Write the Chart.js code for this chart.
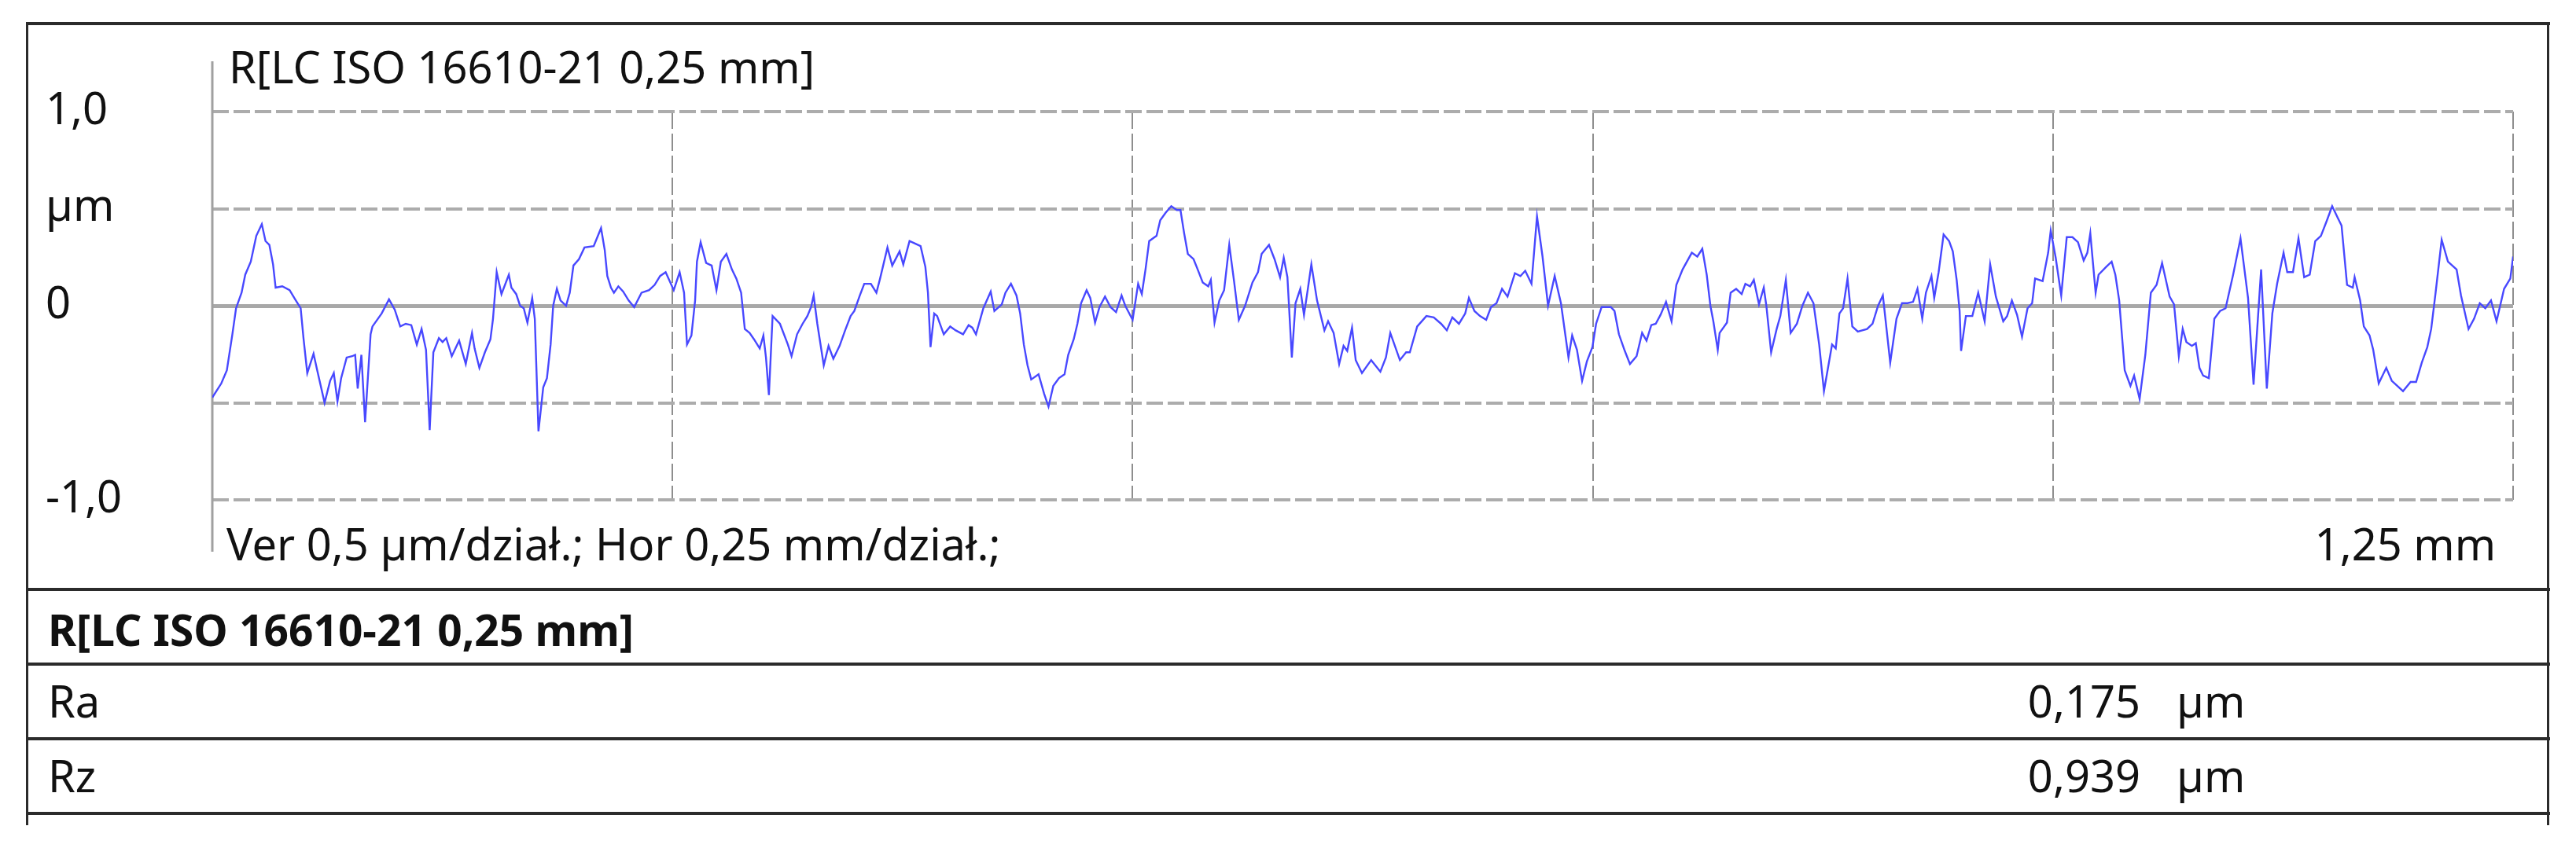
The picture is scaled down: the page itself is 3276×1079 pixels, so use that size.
<!DOCTYPE html>
<html>
<head>
<meta charset="utf-8">
<script src="https://cdn.jsdelivr.net/npm/chart.js@4.4.1/dist/chart.umd.min.js"></script>
<style>
  html, body { margin: 0; padding: 0; background: #fff; }
  body { width: 3276px; height: 1079px; position: relative; overflow: hidden; font-family: "Noto Sans", sans-serif; color: #111; }
  #profile { position: absolute; left: 0; top: 0; }
  .hl { position: absolute; left: 33px; width: 3210px; height: 4px; background: #2b2b2b; }
  .vl { position: absolute; top: 28px; height: 1022px; width: 3px; background: #2b2b2b; }
  .txt { position: absolute; font-size: 56px; line-height: 56px; white-space: nowrap; }
  .bold { font-weight: bold; font-size: 55px; line-height: 55px; }
</style>
</head>
<body>
<canvas id="profile" width="3276" height="1079"></canvas>

<div class="hl" style="top:28px"></div>
<div class="hl" style="top:748px"></div>
<div class="hl" style="top:843px"></div>
<div class="hl" style="top:938px"></div>
<div class="hl" style="top:1033px"></div>
<div class="vl" style="left:33px"></div>
<div class="vl" style="left:3239px"></div>

<div class="txt" id="title" style="left:291px; top:56px"></div>
<div class="txt" id="scaleNote" style="left:288px; top:663px"></div>
<div class="txt" id="lengthNote" style="right:102px; top:663px"></div>
<div class="txt bold" id="tableTitle" style="left:61px; top:773px"></div>
<div id="rows"></div>

<script>
// profile R, x in mm, y in µm
const profileX = [
  0.0000,0.0049,0.0079,0.0109,0.0129,0.0159,0.0179,0.0209,0.0239,0.0269,
  0.0289,0.0310,0.0330,0.0344,0.0380,0.0420,0.0450,0.0480,0.0496,0.0516,
  0.0550,0.0570,0.0610,0.0640,0.0660,0.0680,0.0700,0.0730,0.0760,0.0776,
  0.0790,0.0810,0.0830,0.0860,0.0870,0.0920,0.0960,0.0991,0.1021,0.1051,
  0.1081,0.1111,0.1137,0.1161,0.1181,0.1201,0.1231,0.1251,0.1271,0.1301,
  0.1341,0.1377,0.1411,0.1425,0.1451,0.1481,0.1511,0.1525,0.1545,0.1571,
  0.1611,0.1625,0.1651,0.1672,0.1692,0.1712,0.1738,0.1752,0.1772,0.1798,
  0.1818,0.1838,0.1852,0.1872,0.1892,0.1922,0.1942,0.1962,0.1992,0.2022,
  0.2072,0.2112,0.2132,0.2146,0.2166,0.2182,0.2206,0.2232,0.2262,0.2292,
  0.2332,0.2373,0.2403,0.2433,0.2463,0.2507,0.2539,0.2563,0.2579,0.2603,
  0.2623,0.2633,0.2653,0.2683,0.2713,0.2739,0.2763,0.2793,0.2823,0.2847,
  0.2873,0.2893,0.2919,0.2943,0.2974,0.2994,0.3008,0.3024,0.3044,0.3084,
  0.3127,0.3147,0.3177,0.3207,0.3233,0.3253,0.3267,0.3287,0.3322,0.3348,
  0.3374,0.3408,0.3438,0.3468,0.3488,0.3518,0.3542,0.3578,0.3608,0.3628,
  0.3668,0.3694,0.3734,0.3754,0.3788,0.3818,0.3848,0.3874,0.3888,0.3902,
  0.3922,0.3938,0.3974,0.4009,0.4039,0.4079,0.4109,0.4129,0.4149,0.4189,
  0.4229,0.4249,0.4289,0.4309,0.4339,0.4369,0.4389,0.4409,0.4429,0.4449,
  0.4489,0.4519,0.4543,0.4569,0.4600,0.4630,0.4650,0.4680,0.4700,0.4720,
  0.4750,0.4770,0.4796,0.4820,0.4850,0.4880,0.4910,0.4940,0.4960,0.5000,
  0.5030,0.5050,0.5070,0.5090,0.5130,0.5150,0.5180,0.5210,0.5240,0.5260,
  0.5280,0.5300,0.5331,0.5351,0.5381,0.5411,0.5425,0.5445,0.5471,0.5497,
  0.5525,0.5551,0.5577,0.5611,0.5651,0.5681,0.5701,0.5741,0.5771,0.5801,
  0.5821,0.5841,0.5865,0.5885,0.5911,0.5931,0.5951,0.5971,0.6002,0.6042,
  0.6062,0.6092,0.6122,0.6146,0.6166,0.6192,0.6212,
  0.6246,0.6296,0.6346,0.6376,0.6400,0.6452,0.6486,0.6506,0.6546,0.6596,
  0.6636,0.6676,0.6707,0.6737,0.6773,0.6807,0.6827,0.6857,0.6887,0.6921,
  0.6947,0.6977,0.7007,0.7037,0.7077,0.7107,0.7133,0.7167,0.7197,0.7227,
  0.7257,0.7293,0.7327,0.7368,0.7388,0.7414,0.7442,0.7468,0.7498,0.7518,
  0.7548,0.7598,0.7618,0.7642,0.7674,0.7702,0.7738,0.7768,0.7792,0.7818,
  0.7842,0.7868,0.7898,0.7928,0.7954,0.7988,0.8038,0.8068,0.8095,0.8119,
  0.8139,0.8155,0.8179,0.8189,0.8229,0.8249,0.8279,0.8309,0.8329,0.8355,
  0.8375,0.8403,0.8429,0.8443,0.8469,0.8499,0.8519,0.8549,0.8575,0.8609,
  0.8639,0.8669,0.8699,0.8730,0.8756,0.8800,0.8820,0.8840,0.8860,0.8884,
  0.8910,0.8940,0.8990,0.9020,0.9050,0.9076,0.9116,0.9150,0.9180,0.9210,
  0.9240,0.9264,0.9290,0.9310,0.9340,
  0.9355,0.9379,0.9406,0.9436,0.9456,0.9477,0.9493,0.9501,0.9527,0.9562,
  0.9594,0.9629,0.9659,0.9690,0.9730,0.9751,0.9777,0.9805,0.9832,0.9862,
  0.9887,0.9903,0.9944,0.9974,0.9988,1.0015,1.0045,1.0075,1.0106,1.0136,
  1.0167,1.0187,1.0203,1.0232,1.0248,1.0289,1.0319,1.0339,1.0360,1.0390,
  1.0421,1.0441,1.0471,1.0502,1.0532,1.0563,1.0593,1.0634,1.0658,1.0684,
  1.0705,1.0725,1.0755,1.0776,1.0796,1.0816,1.0847,1.0877,1.0908,1.0938,
  1.0979,1.1019,1.1060,1.1090,1.1131,1.1162,1.1192,1.1218,1.1253,1.1273,
  1.1304,1.1334,1.1365,1.1395,1.1425,1.1456,1.1486,1.1517,1.1547,1.1568,
  1.1598,1.1629,1.1639,1.1669,1.1689,1.1720,1.1740,1.1770,1.1811,1.1841,
  1.1902,1.1943,1.1973,1.2004,1.2034,1.2055,1.2079,1.2112,1.2146,1.2193,
  1.2217,1.2258,1.2288,1.2319,1.2349,1.2380,1.2410,1.2451,1.2485,1.2500
];
const profileY = [
  -0.473,-0.400,-0.333,-0.147,-0.013,0.067,0.160,0.227,0.360,0.420,
  0.333,0.313,0.213,0.093,0.100,0.080,0.033,-0.013,-0.173,-0.347,
  -0.247,-0.333,-0.500,-0.387,-0.347,-0.493,-0.373,-0.267,-0.260,-0.253,
  -0.427,-0.253,-0.600,-0.147,-0.107,-0.040,0.033,-0.020,-0.107,-0.093,
  -0.100,-0.200,-0.120,-0.227,-0.640,-0.240,-0.167,-0.187,-0.167,-0.260,
  -0.180,-0.300,-0.140,-0.220,-0.320,-0.240,-0.173,-0.067,0.173,0.060,
  0.160,0.093,0.060,0.000,-0.013,-0.087,0.040,-0.067,-0.647,-0.420,
  -0.373,-0.200,0.000,0.087,0.027,0.000,0.067,0.207,0.240,0.300,
  0.307,0.400,0.287,0.153,0.093,0.067,0.100,0.073,0.027,-0.007,
  0.067,0.080,0.107,0.153,0.173,0.080,0.173,0.067,-0.200,-0.153,
  0.027,0.227,0.327,0.220,0.207,0.080,0.227,0.267,0.187,0.140,
  0.067,-0.120,-0.140,-0.173,-0.220,-0.153,-0.267,-0.460,-0.053,-0.093,
  -0.200,-0.260,-0.147,-0.093,-0.053,-0.007,0.053,-0.093,-0.307,-0.207,
  -0.273,-0.207,-0.127,-0.053,-0.027,0.053,0.113,0.113,0.067,0.140,
  0.300,0.207,0.280,0.213,0.333,0.320,0.307,0.200,0.067,-0.213,
  -0.040,-0.053,-0.147,-0.107,-0.127,-0.147,-0.100,-0.113,-0.147,-0.013,
  0.073,-0.027,0.007,0.067,0.113,0.053,-0.040,-0.200,-0.307,-0.380,
  -0.353,-0.453,-0.520,-0.413,-0.373,-0.353,-0.253,-0.173,-0.093,0.013,
  0.080,0.040,-0.087,-0.007,0.047,-0.007,-0.033,0.053,0.000,-0.073,
  0.113,0.060,0.187,0.333,0.360,0.440,0.480,0.513,0.493,0.493,
  0.373,0.267,0.240,0.193,0.120,0.100,0.133,-0.087,0.027,0.080,
  0.313,0.127,-0.073,0.000,0.120,0.173,0.267,0.313,0.240,0.147,
  0.247,0.147,-0.267,0.013,0.087,-0.047,0.080,0.213,0.027,-0.127,
  -0.080,-0.140,-0.300,-0.207,-0.233,-0.113,-0.280,
  -0.347,-0.280,-0.340,-0.267,-0.140,-0.280,-0.240,-0.240,-0.107,-0.053,
  -0.060,-0.093,-0.127,-0.060,-0.093,-0.040,0.040,-0.027,-0.053,-0.073,
  -0.007,0.013,0.087,0.047,0.167,0.153,0.180,0.113,0.460,0.253,
  0.000,0.153,0.013,-0.267,-0.153,-0.227,-0.387,-0.287,-0.213,-0.093,
  -0.007,-0.007,-0.027,-0.147,-0.233,-0.300,-0.260,-0.140,-0.180,-0.100,
  -0.093,-0.047,0.020,-0.080,0.107,0.187,0.273,0.253,0.293,0.160,
  0.000,-0.080,-0.227,-0.140,-0.087,0.067,0.087,0.060,0.113,0.100,
  0.133,0.007,0.093,0.000,-0.240,-0.120,-0.053,0.133,-0.140,-0.093,
  0.000,0.067,0.013,-0.200,-0.440,-0.200,-0.220,-0.040,-0.013,0.140,
  -0.107,-0.133,-0.120,-0.093,0.000,0.053,-0.293,-0.067,0.013,0.013,
  0.020,0.087,-0.067,0.067,0.153,
  0.040,0.173,0.367,0.333,0.280,0.133,-0.027,-0.233,-0.053,-0.053,
  0.067,-0.080,0.213,0.047,-0.080,-0.053,0.027,-0.047,-0.160,-0.013,
  0.013,0.140,0.127,0.273,0.387,0.247,0.053,0.353,0.353,0.327,
  0.233,0.273,0.373,0.067,0.160,0.200,0.227,0.160,0.027,-0.333,
  -0.413,-0.360,-0.480,-0.253,0.067,0.107,0.220,0.047,0.007,-0.260,
  -0.120,-0.187,-0.207,-0.193,-0.320,-0.360,-0.373,-0.067,-0.027,-0.013,
  0.160,0.347,0.040,-0.407,0.187,-0.427,-0.040,0.113,0.273,0.173,
  0.173,0.347,0.147,0.160,0.333,0.360,0.433,0.513,0.453,0.413,
  0.107,0.093,0.147,0.027,-0.107,-0.153,-0.227,-0.400,-0.320,-0.387,
  -0.440,-0.393,-0.393,-0.293,-0.213,-0.120,0.067,0.340,0.227,0.187,
  0.053,-0.120,-0.067,0.013,-0.013,0.027,-0.080,0.087,0.140,0.253
];

const xGridValues = [0, 0.25, 0.5, 0.75, 1.0, 1.25];
const yTickValues = [-1, -0.5, 0, 0.5, 1];
const yTickLabels = ['-1,0', '', '0', 'µm', '1,0'];

const titleText = 'R[LC ISO 16610-21 0,25 mm]';
const scaleText = 'Ver 0,5 µm/dział.; Hor 0,25 mm/dział.;';
const lengthText = '1,25 mm';
const paramNames = ['Ra', 'Rz'];
const paramValues = ['0,175', '0,939'];
const paramUnits = ['µm', 'µm'];

document.getElementById('title').textContent = titleText;
document.getElementById('scaleNote').textContent = scaleText;
document.getElementById('lengthNote').textContent = lengthText;
document.getElementById('tableTitle').textContent = titleText;

const rows = document.getElementById('rows');
paramNames.forEach((name, i) => {
  const top = 863 + i * 95;
  rows.insertAdjacentHTML('beforeend',
    '<div class="txt" style="left:61px; top:' + top + 'px">' + name + '</div>' +
    '<div class="txt" style="right:554px; top:' + top + 'px">' + paramValues[i] + '</div>' +
    '<div class="txt" style="left:2768px; top:' + top + 'px">' + paramUnits[i] + '</div>');
});

// solid axis line at x = 0, longer than the grid
const axisLine = {
  id: 'axisLine',
  beforeDatasetsDraw(chart) {
    const { ctx, chartArea, scales } = chart;
    const x = scales.x.getPixelForValue(0);
    ctx.save();
    ctx.strokeStyle = '#a0a0a0';
    ctx.lineWidth = 3;
    ctx.beginPath();
    ctx.moveTo(x, chartArea.top - 64);
    ctx.lineTo(x, chartArea.bottom + 66);
    ctx.stroke();
    ctx.restore();
  }
};

new Chart(document.getElementById('profile'), {
  type: 'line',
  data: {
    datasets: [{
      data: profileX.map((x, i) => ({ x: x, y: profileY[i] })),
      borderColor: 'rgb(72, 72, 255)',
      borderWidth: 2.4,
      pointRadius: 0,
      tension: 0,
      fill: false
    }]
  },
  options: {
    responsive: false,
    animation: false,
    devicePixelRatio: 1,
    layout: { padding: { left: 58, right: 80, top: 142, bottom: 443 } },
    plugins: { legend: { display: false }, tooltip: { enabled: false } },
    scales: {
      x: {
        type: 'linear',
        min: 0,
        max: 1.25,
        afterBuildTicks: s => { s.ticks = xGridValues.map(v => ({ value: v })); },
        ticks: { display: false },
        border: { display: false, dash: [22, 6] },
        grid: {
          drawTicks: false,
          lineWidth: 2,
          color: c => (c.tick && c.tick.value === 0) ? 'rgba(0,0,0,0)' : '#8e8e8e'
        }
      },
      y: {
        type: 'linear',
        min: -1,
        max: 1,
        afterBuildTicks: s => { s.ticks = yTickValues.map(v => ({ value: v })); },
        afterFit: s => { s.width = 212; },
        ticks: {
          crossAlign: 'far',
          color: '#111',
          font: { family: 'Noto Sans', size: 56 },
          callback: v => yTickLabels[yTickValues.indexOf(v)]
        },
        border: { display: false, dash: c => (c.tick && c.tick.value === 0) ? [] : [21, 6] },
        grid: {
          drawTicks: false,
          lineWidth: c => (c.tick && c.tick.value === 0) ? 5 : 4,
          color: c => (c.tick && c.tick.value === 0) ? '#a8a8a8' : '#acacac'
        }
      }
    }
  },
  plugins: [axisLine]
});
</script>
</body>
</html>
